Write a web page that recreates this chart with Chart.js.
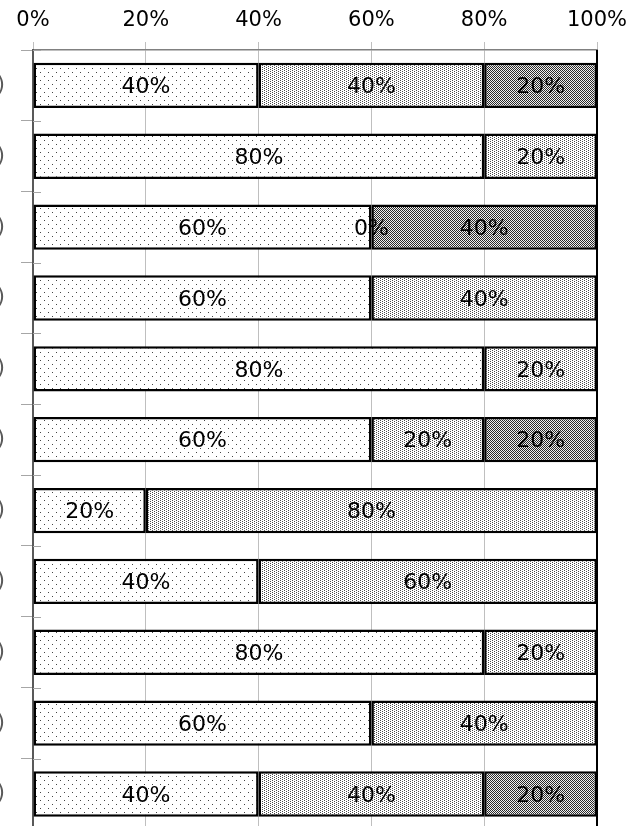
<!DOCTYPE html>
<html>
<head>
<meta charset="utf-8">
<script src="https://cdn.jsdelivr.net/npm/chart.js@4/dist/chart.umd.min.js"></script>
<style>
  html, body { margin: 0; padding: 0; background: #fff; overflow: hidden; }
  canvas { display: block; }
</style>
</head>
<body>
<canvas id="chart" width="642" height="858"></canvas>
<script>
// rows, top to bottom
var categories = ['(n=5)', '(n=5)', '(n=5)', '(n=5)', '(n=5)', '(n=5)', '(n=5)', '(n=5)', '(n=5)', '(n=5)', '(n=5)'];
var seriesNames = ['A', 'B', 'C'];
var seriesA = [40, 80, 60, 60, 80, 60, 20, 40, 80, 60, 40];
var seriesB = [40, 20, 0, 40, 20, 20, 80, 60, 20, 40, 40];
var seriesC = [20, null, 40, null, null, 20, null, null, null, null, 20];
var xTicks = [0, 20, 40, 60, 80, 100];

var canvas = document.getElementById('chart');
var ctx = canvas.getContext('2d');

// small repeating dot tiles
function dotPattern(size, dots, bg, fg) {
    var c = document.createElement('canvas');
    c.width = size; c.height = size;
    var g = c.getContext('2d');
    g.fillStyle = bg;
    g.fillRect(0, 0, size, size);
    g.fillStyle = fg;
    dots.forEach(function (d) { g.fillRect(d[0], d[1], 1, 1); });
    return ctx.createPattern(c, 'repeat');
}

var fillA = dotPattern(8, [[0, 0], [4, 4]], '#fff', '#444');
var fillB = dotPattern(4, [[0, 0], [2, 1], [0, 2], [2, 3]], '#fff', '#4a4a4a');
var fillC = dotPattern(2, [[0, 0], [1, 1]], '#f0f0f0', '#2a2a2a');

var font = 'DejaVu Sans, Verdana, sans-serif';

var segmentLabels = {
    id: 'segmentLabels',
    afterDatasetsDraw: function (chart) {
        var c = chart.ctx;
        var area = chart.chartArea;
        c.save();

        // right edge line of the plot
        c.strokeStyle = '#000';
        c.lineWidth = 2;
        c.beginPath();
        c.moveTo(area.right, area.top);
        c.lineTo(area.right, area.bottom);
        c.stroke();

        // separator ticks reach a little into the plot
        var n = categories.length;
        c.strokeStyle = '#a6a6a6';
        c.lineWidth = 1;
        for (var k = 0; k <= n; k++) {
            var yy = Math.round(area.top + k * (area.bottom - area.top) / n) + 0.5;
            c.beginPath();
            c.moveTo(area.left, yy);
            c.lineTo(area.left + 8, yy);
            c.stroke();
        }

        c.fillStyle = '#000';
        c.font = '22px ' + font;
        c.textAlign = 'center';
        c.textBaseline = 'middle';
        chart.data.datasets.forEach(function (ds, i) {
            var meta = chart.getDatasetMeta(i);
            meta.data.forEach(function (bar, j) {
                var v = ds.data[j];
                if (v === null || v === undefined) return;
                var p = bar.getProps(['x', 'y', 'base'], true);
                c.fillText(v + '%', (p.x + p.base) / 2, p.y + 2);
            });
        });
        c.restore();
    }
};

new Chart(ctx, {
    type: 'bar',
    data: {
        labels: categories,
        datasets: [{
            label: seriesNames[0],
            data: seriesA,
            backgroundColor: fillA
        }, {
            label: seriesNames[1],
            data: seriesB,
            backgroundColor: fillB
        }, {
            label: seriesNames[2],
            data: seriesC,
            backgroundColor: fillC
        }]
    },
    options: {
        indexAxis: 'y',
        responsive: false,
        animation: false,
        events: [],
        layout: { padding: { top: 0, right: 45, bottom: 0, left: 0 } },
        datasets: {
            bar: {
                borderColor: '#000',
                borderWidth: 2.5,
                borderSkipped: false,
                barPercentage: 0.64,
                categoryPercentage: 1
            }
        },
        plugins: {
            legend: { display: false },
            tooltip: { enabled: false }
        },
        scales: {
            x: {
                position: 'top',
                stacked: true,
                min: 0,
                max: 100,
                afterBuildTicks: function (scale) {
                    scale.ticks = xTicks.map(function (v) { return { value: v }; });
                },
                afterFit: function (scale) { scale.height = 50; },
                ticks: {
                    color: '#000',
                    padding: 9,
                    font: { family: font, size: 21 },
                    callback: function (v) { return v + '%'; }
                },
                grid: { color: '#bfbfbf', lineWidth: 1, tickLength: 8 },
                border: { color: '#808080', width: 1.5 }
            },
            y: {
                stacked: true,
                afterFit: function (scale) { scale.width = 33; },
                ticks: {
                    color: '#595959',
                    padding: 16,
                    font: { family: font, size: 21 }
                },
                grid: { drawOnChartArea: false, color: '#a6a6a6', tickLength: 12 },
                border: { color: '#595959', width: 2 }
            }
        }
    },
    plugins: [segmentLabels]
});
</script>
</body>
</html>
